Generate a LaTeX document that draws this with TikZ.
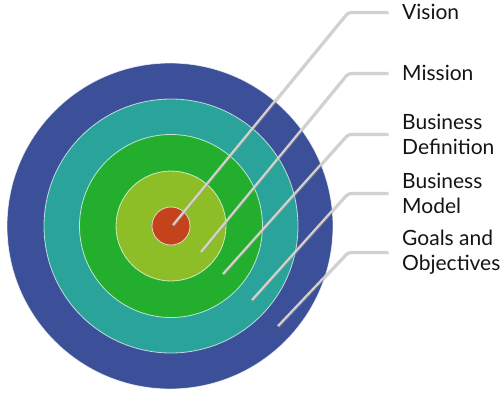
\documentclass[tikz,border=0pt]{standalone}
\usepackage{fontspec}
\setmainfont{Lato}
\definecolor{ringblue}{RGB}{59,80,152}
\definecolor{ringteal}{RGB}{42,164,154}
\definecolor{ringgreen}{RGB}{35,174,46}
\definecolor{ringlime}{RGB}{141,190,40}
\definecolor{ringred}{RGB}{196,66,28}
\definecolor{leadgray}{RGB}{214,208,204}
\tikzset{
  ring/.style={circle, draw=white, draw opacity=0.7, line width=0.8pt, inner sep=0pt},
  leader/.style={draw=leadgray, line width=2.2pt, rounded corners=3pt,
    preaction={draw=black!40, draw opacity=0.45, line width=2.2pt,
      transform canvas={shift={(0.6pt,-0.9pt)}}}},
  lbl/.style={anchor=west, inner xsep=14pt, inner ysep=0pt, align=left,
    text=black!92, font=\fontsize{21}{25}\selectfont}
}
\begin{document}
\begin{tikzpicture}[x=1pt,y=-1pt]
  \useasboundingbox (0,0) rectangle (504,400);
  \node[ring, fill=ringblue, minimum size=326pt] (goalsring) at (170,226) {};
  \node[ring, fill=ringteal, minimum size=254pt] (modelring) at (171,226) {};
  \node[ring, fill=ringgreen, minimum size=183pt] (defring) at (171,226) {};
  \node[ring, fill=ringlime, minimum size=110pt] (missionring) at (171,226) {};
  \node[ring, fill=ringred, minimum size=38pt] (visionring) at (171,226) {};
  \node[lbl] (vision) at (388,12) {Vision};
  \node[lbl] (mission) at (388,73) {Mission};
  \node[lbl] (bdef) at (388,134) {Business\\Definition};
  \node[lbl] (bmodel) at (388,193) {Business\\Model};
  \node[lbl] (goals) at (388,252) {Goals and\\Objectives};
  \coordinate (vtip) at (173,225);
  \coordinate (mtip) at (201,252);
  \coordinate (dtip) at (223,274);
  \coordinate (btip) at (252,300);
  \coordinate (gtip) at (278,326);
  \draw[leader] (vtip) -- (348,12) -- (vision.west);
  \draw[leader] (mtip) -- (348,73) -- (mission.west);
  \draw[leader] (dtip) -- (348,134) -- (bdef.west);
  \draw[leader] (btip) -- (348,193) -- (bmodel.west);
  \draw[leader] (gtip) -- (348,252) -- (goals.west);
\end{tikzpicture}
\end{document}
